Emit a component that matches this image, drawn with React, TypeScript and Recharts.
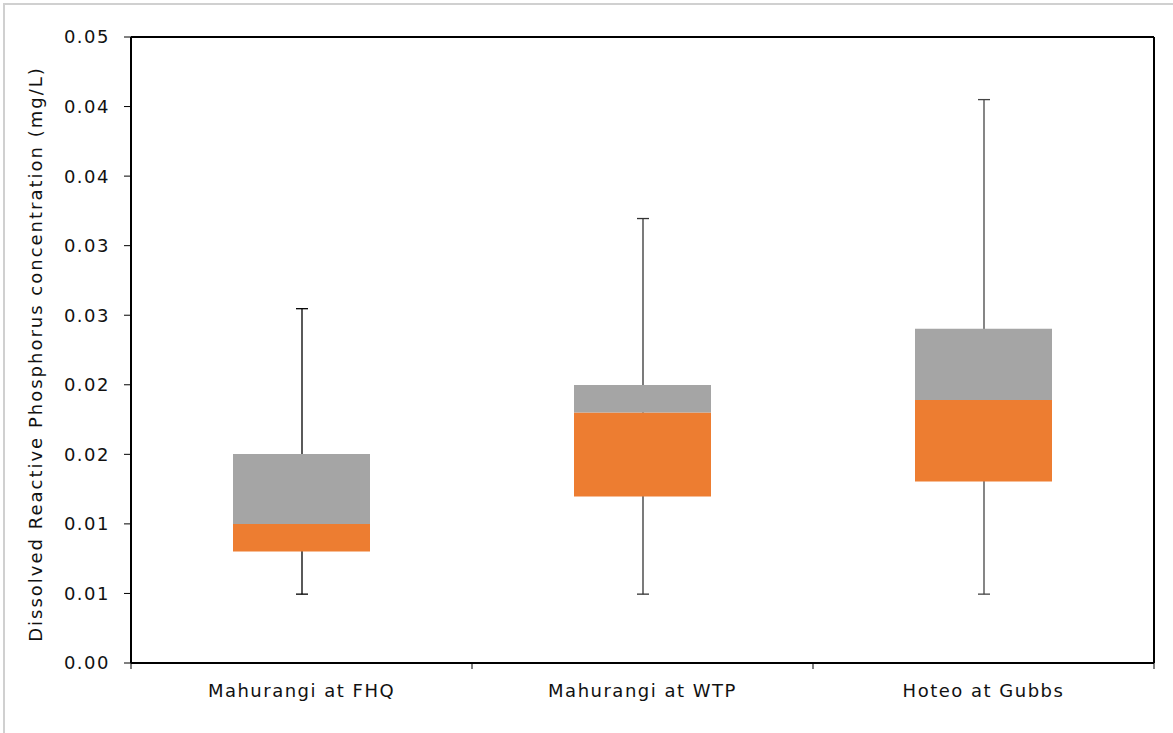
import { ComposedChart, Bar, XAxis, YAxis } from 'recharts';

const SITES = ['Mahurangi at FHQ', 'Mahurangi at WTP', 'Hoteo at Gubbs'];
const MINS = [0.0055, 0.0055, 0.0055];
const Q1S = [0.0089, 0.0133, 0.0145];
const MEDIANS = [0.0111, 0.02, 0.021];
const Q3S = [0.0167, 0.0222, 0.0267];
const MAXES = [0.0283, 0.0355, 0.045];
const Y_TICKS = [0, 1, 2, 3, 4, 5, 6, 7, 8, 9].map((i) => (0.05 * i) / 9);

const data = SITES.map((site, i) => ({
  site,
  base: Q1S[i],
  lower: MEDIANS[i] - Q1S[i],
  upper: Q3S[i] - MEDIANS[i],
  whisker: [MINS[i], MAXES[i]]
}));

const FONT = '"DejaVu Sans", Verdana, sans-serif';
const textStyle = { fill: '#111', fontSize: 18, fontFamily: FONT, letterSpacing: 1.5 };
const WHISKER_COLORS = ['#000', '#333', '#444'];

// draws min-max line with caps from a range bar
const Whisker = (props: any) => {
  const { x, y, width, height, index } = props;
  if (height == null) return null;
  const cx = x + width / 2;
  return (
    <g stroke={WHISKER_COLORS[index % WHISKER_COLORS.length]} strokeWidth={1.3}>
      <line x1={cx} x2={cx} y1={y} y2={y + height} />
      <line x1={x} x2={x + width} y1={y} y2={y} />
      <line x1={x} x2={x + width} y1={y + height} y2={y + height} />
    </g>
  );
};

// excel style: tick marks sit between categories, label in the middle
const CategoryTick = (props: any) => {
  const { x, y, payload, index, visibleTicksCount } = props;
  const half = payload.offset || 0;
  return (
    <g>
      <line x1={x - half} x2={x - half} y1={y} y2={y + 6} stroke="#000" />
      {index === visibleTicksCount - 1 && (
        <line x1={x + half} x2={x + half} y1={y} y2={y + 6} stroke="#000" />
      )}
      <text x={x} y={y + 34} textAnchor="middle" style={textStyle}>
        {payload.value}
      </text>
    </g>
  );
};

const App = () => {
  return (
    <div style={{ position: 'absolute', left: 0, top: 0, width: 1173, height: 733, fontFamily: FONT, background: '#fff' }}>
      <div
        style={{
          position: 'absolute',
          left: 3,
          top: 3,
          right: 0,
          bottom: 0,
          borderLeft: '2px solid #d0d0d0',
          borderTop: '2px solid #d0d0d0'
        }}
      />
      <ComposedChart
        width={1173}
        height={733}
        data={data}
        margin={{ top: 36, right: 18, left: 0, bottom: 20 }}
        style={{ position: 'absolute', left: 0, top: 0 }}
      >
        <XAxis
          xAxisId="cat"
          dataKey="site"
          height={50}
          tickSize={0}
          tickMargin={0}
          interval={0}
          axisLine={{ stroke: '#000', strokeWidth: 2 }}
          tickLine={false}
          tick={<CategoryTick />}
        />
        <XAxis
          xAxisId="w"
          dataKey="site"
          orientation="top"
          height={1}
          tick={false}
          tickLine={false}
          axisLine={{ stroke: '#000', strokeWidth: 2 }}
        />
        <YAxis
          yAxisId="left"
          domain={[0, 0.05]}
          ticks={Y_TICKS}
          width={131}
          tickSize={7}
          tickMargin={14}
          tickFormatter={(v: number) => v.toFixed(2)}
          axisLine={{ stroke: '#000', strokeWidth: 2 }}
          tickLine={{ stroke: '#000' }}
          tick={textStyle}
          label={{
            value: 'Dissolved Reactive Phosphorus concentration (mg/L)',
            angle: -90,
            position: 'insideLeft',
            offset: 36,
            dy: 4,
            style: { ...textStyle, textAnchor: 'middle', letterSpacing: 2 }
          }}
        />
        <YAxis
          yAxisId="right"
          orientation="right"
          domain={[0, 0.05]}
          width={1}
          tick={false}
          tickLine={false}
          axisLine={{ stroke: '#000', strokeWidth: 2 }}
        />
        <Bar
          xAxisId="w"
          yAxisId="left"
          dataKey="whisker"
          barSize={12}
          shape={<Whisker />}
          isAnimationActive={false}
        />
        <Bar xAxisId="cat" yAxisId="left" dataKey="base" stackId="box" fill="transparent" barSize={137} isAnimationActive={false} />
        <Bar xAxisId="cat" yAxisId="left" dataKey="lower" stackId="box" fill="#ED7D31" barSize={137} isAnimationActive={false} />
        <Bar xAxisId="cat" yAxisId="left" dataKey="upper" stackId="box" fill="#A5A5A5" barSize={137} isAnimationActive={false} />
      </ComposedChart>
    </div>
  );
};

export default App;
